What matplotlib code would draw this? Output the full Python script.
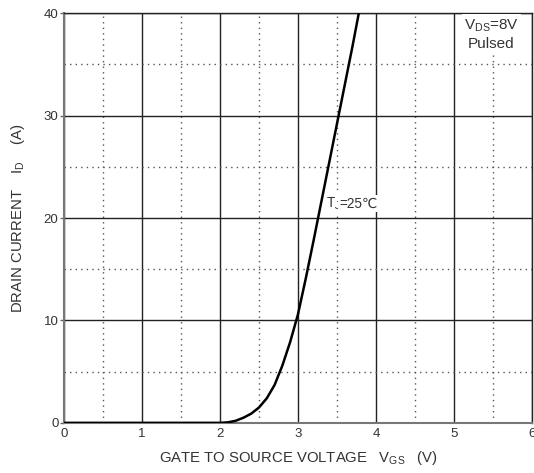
import matplotlib
matplotlib.use("Agg")
import matplotlib.pyplot as plt
from matplotlib.ticker import MultipleLocator

plt.rcParams['font.family'] = ['Liberation Sans', 'DejaVu Sans']
plt.rcParams['mathtext.fontset'] = 'custom'
plt.rcParams['mathtext.rm'] = 'Liberation Sans'
plt.rcParams['mathtext.it'] = 'Liberation Sans'

# Data
vgs = [0.0, 1.0, 2.0, 2.1, 2.2, 2.3, 2.4, 2.5, 2.6, 2.7, 2.8, 2.9, 3.0,
       3.1, 3.2, 3.3, 3.4, 3.5, 3.6, 3.7, 3.78]
i_d = [0.0, 0.0, 0.0, 0.05, 0.2, 0.5, 0.9, 1.5, 2.4, 3.7, 5.6, 7.9, 10.6,
       14.1, 17.8, 21.6, 25.4, 29.2, 33.0, 36.8, 40.0]

x_ticks = [0, 1, 2, 3, 4, 5, 6]
y_ticks = [0, 10, 20, 30, 40]

txtc = '#333333'

fig = plt.figure(figsize=(5.34, 4.73), dpi=100)
ax = fig.add_axes([0.120, 0.106, 0.876, 0.866])

ax.plot(vgs, i_d, color='black', lw=1.8, zorder=3, solid_capstyle='butt')

ax.set_xlim(0, 6)
ax.set_ylim(0, 40)
ax.set_xticks(x_ticks)
ax.set_yticks(y_ticks)
ax.xaxis.set_minor_locator(MultipleLocator(0.5))
ax.yaxis.set_minor_locator(MultipleLocator(5))

ax.grid(which='major', color='#222222', lw=1.0, ls='-')
ax.grid(which='minor', color='#555555', lw=1.0, ls=(0, (1, 3)))
ax.set_axisbelow(True)

ax.tick_params(which='major', direction='out', length=3, width=1, colors='#666666',
               labelcolor=txtc, labelsize=9.5, pad=1)
ax.tick_params(which='minor', length=0)
ax.tick_params(axis='x', length=0, pad=4)

for s in ['left', 'bottom']:
    ax.spines[s].set_color('#777777')
    ax.spines[s].set_linewidth(1.5)
for s in ['top', 'right']:
    ax.spines[s].set_color('#222222')
    ax.spines[s].set_linewidth(1.0)

ax.set_xlabel(r'GATE TO SOURCE VOLTAGE   $\mathregular{V_{GS}}$   (V)',
              color=txtc, fontsize=10.7, labelpad=6)
ax.set_ylabel(r'DRAIN CURRENT    $\mathregular{I_D}$    (A)',
              color=txtc, fontsize=10.7, labelpad=12)

ax.text(5.48, 39.6, '$\\mathregular{V_{DS}}$=8V\nPulsed', ha='center', va='top',
        fontsize=11, color=txtc, linespacing=1.3,
        bbox=dict(facecolor='white', edgecolor='none', pad=1.5))

t1 = ax.text(3.36, 21.0, '$\\mathregular{T_J}$', ha='left', va='baseline',
             fontsize=9.8, color=txtc,
             bbox=dict(facecolor='white', edgecolor='none', pad=1.0))
fig.canvas.draw()
bb = t1.get_window_extent()
x_end = ax.transData.inverted().transform((bb.x1, 0))[0]
ax.text(x_end - 0.02, 21.0, '=25\u2103', ha='left', va='baseline',
        fontsize=9.8, color=txtc,
        bbox=dict(facecolor='white', edgecolor='none', pad=1.0))

fig.savefig('out.png', dpi=100)
